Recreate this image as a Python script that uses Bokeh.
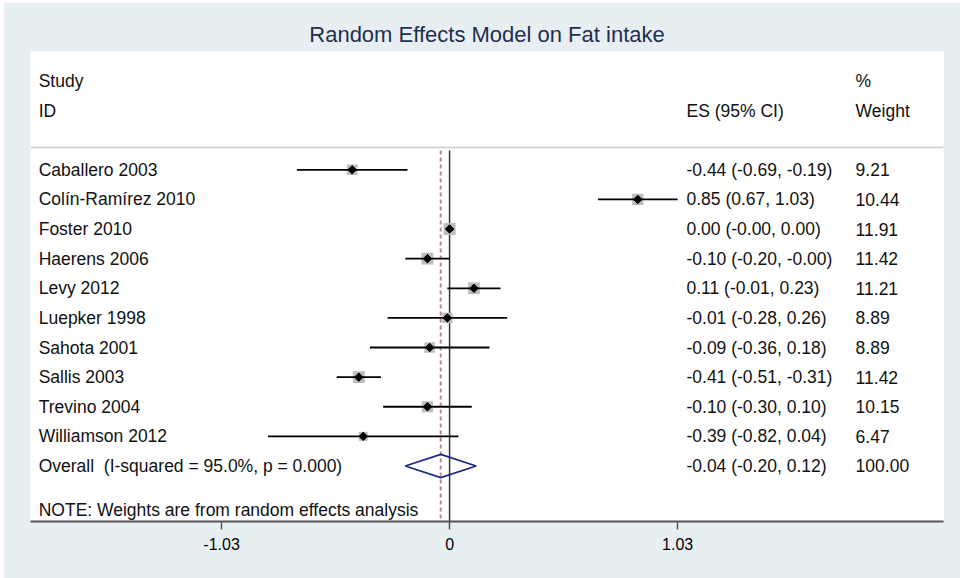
import numpy as np
from bokeh.plotting import figure
from bokeh.models import ColumnDataSource, Range1d, FixedTicker, Span
from bokeh.core.properties import value
from bokeh.embed import file_html
from bokeh.resources import INLINE

# ---------------- data ----------------
studies = ["Caballero 2003", "Colín-Ramírez 2010", "Foster 2010", "Haerens 2006",
           "Levy 2012", "Luepker 1998", "Sahota 2001", "Sallis 2003",
           "Trevino 2004", "Williamson 2012"]
es = [-0.44, 0.85, 0.00, -0.10, 0.11, -0.01, -0.09, -0.41, -0.10, -0.39]
ci_lo = [-0.69, 0.67, -0.00, -0.20, -0.01, -0.28, -0.36, -0.51, -0.30, -0.82]
ci_hi = [-0.19, 1.03, 0.00, -0.00, 0.23, 0.26, 0.18, -0.31, 0.10, 0.04]
weights = [9.21, 10.44, 11.91, 11.42, 11.21, 8.89, 8.89, 11.42, 10.15, 6.47]
es_labels = ["-0.44 (-0.69, -0.19)", "0.85 (0.67, 1.03)", "0.00 (-0.00, 0.00)",
             "-0.10 (-0.20, -0.00)", "0.11 (-0.01, 0.23)", "-0.01 (-0.28, 0.26)",
             "-0.09 (-0.36, 0.18)", "-0.41 (-0.51, -0.31)", "-0.10 (-0.30, 0.10)",
             "-0.39 (-0.82, 0.04)"]
weight_labels = ["9.21", "10.44", "11.91", "11.42", "11.21", "8.89", "8.89",
                 "11.42", "10.15", "6.47"]

overall_es = -0.04
overall_lo = -0.20
overall_hi = 0.12
overall_text = "Overall\u00a0\u00a0(I-squared = 95.0%, p = 0.000)"
overall_es_label = "-0.04 (-0.20, 0.12)"
overall_weight_label = "100.00"
note_text = "NOTE: Weights are from random effects analysis"

tick_values = [-1.03, 0, 1.03]
tick_labels = ["-1.03", "0", "1.03"]
title_text = "Random Effects Model on Fat intake"

# ---------------- layout constants ----------------
BG = "#e8eff2"
FONT = "Liberation Sans"
FS = "17.5px"
X_STUDY, X_ES, X_WT = -1.856, 1.07, 1.834
rows = list(range(len(studies)))
ROW_OVERALL = len(studies)
ROW_NOTE = len(studies) + 1.5

p = figure(width=957, height=576, output_backend="svg", toolbar_location=None,
           x_range=Range1d(-1.893, 2.231), y_range=Range1d(11.874, -3.994),
           y_axis_location=None, margin=(2, 0, 0, 3),
           min_border_left=27, min_border_right=17, min_border_top=49, min_border_bottom=57)
p.background_fill_color = "white"
p.border_fill_color = BG
p.outline_line_color = None
p.xgrid.visible = False
p.ygrid.visible = False

p.title.text = title_text
p.title.align = "center"
p.title.text_font = FONT
p.title.text_font_size = "22px"
p.title.text_font_style = "normal"
p.title.text_color = "#1f2f52"

ax = p.xaxis[0]
ax.ticker = FixedTicker(ticks=tick_values, minor_ticks=[])
ax.major_label_overrides = {v: s for v, s in zip(tick_values, tick_labels)}
ax.axis_line_color = "#555555"
ax.axis_line_width = 2
ax.major_tick_line_color = "#555555"
ax.major_tick_line_width = 1.5
ax.major_tick_out = 8
ax.major_tick_in = 0
ax.minor_tick_line_color = None
ax.major_label_text_font = FONT
ax.major_label_text_font_size = "16px"
ax.major_label_text_color = "black"
ax.major_label_standoff = 8

# header separator
p.add_layout(Span(location=-0.753, dimension="width", line_color="#cccccc", line_width=1.5))

# vertical reference lines
p.segment(x0=[overall_es], y0=[-0.65], x1=[overall_es], y1=[11.874],
          line_color="#c4878f", line_width=2, line_dash="4 3")
p.segment(x0=[0], y0=[-0.65], x1=[0], y1=[11.874], line_color="#333333", line_width=1.5)

src = ColumnDataSource(dict(
    y=rows, es=es, lo=ci_lo, hi=ci_hi,
    box=[3.5 * np.sqrt(w) for w in weights],
    study=studies, esl=es_labels, wl=weight_labels,
))

p.scatter(x="es", y="y", size="box", marker="square", source=src,
          fill_color="#bdbdbd", line_color=None)
p.segment(x0="lo", y0="y", x1="hi", y1="y", source=src, line_color="black", line_width=1.8)
p.scatter(x="es", y="y", size=6, marker="square", angle=np.pi / 4, source=src,
          fill_color="black", line_color="black")

# overall diamond
h = 0.39
p.patch(x=[overall_lo, overall_es, overall_hi, overall_es],
        y=[ROW_OVERALL, ROW_OVERALL - h, ROW_OVERALL, ROW_OVERALL + h],
        fill_color=None, line_color="#1d2a80", line_width=1.8)

txt = dict(text_font=value(FONT), text_font_size=FS, text_baseline="middle",
           text_align="left", text_color="#111111")
p.text(x=X_STUDY, y="y", text="study", source=src, **txt)
p.text(x=X_ES, y="y", text="esl", source=src, **txt)
p.text(x=X_WT, y="y", text="wl", source=src, **txt)

p.text(x=[X_STUDY, X_STUDY, X_ES, X_WT, X_WT],
       y=[-3, -2, -2, -3, -2],
       text=["Study", "ID", "ES (95% CI)", "%", "Weight"], **txt)
p.text(x=[X_STUDY, X_ES, X_WT], y=[ROW_OVERALL] * 3,
       text=[overall_text, overall_es_label, overall_weight_label], **txt)
p.text(x=[X_STUDY], y=[ROW_NOTE], text=[note_text], **txt)

open("out.html", "w").write(file_html(p, INLINE))
